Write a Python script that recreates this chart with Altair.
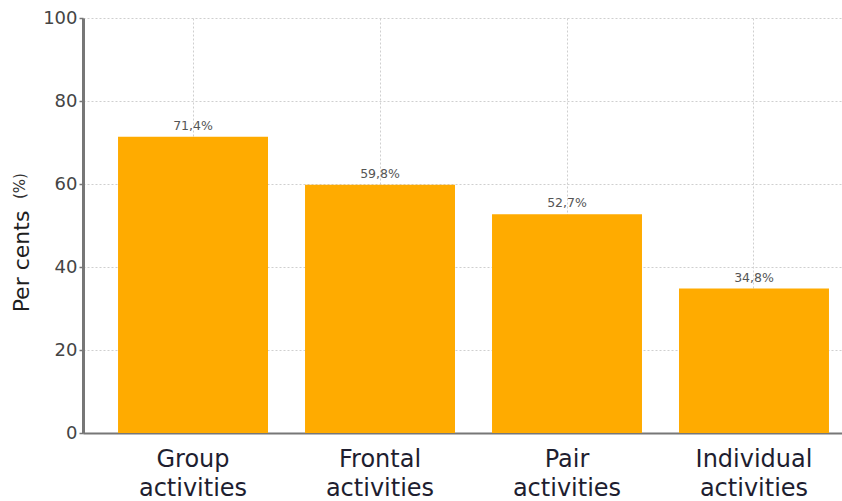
import altair as alt
import pandas as pd

categories = ["Group activities", "Frontal activities", "Pair activities", "Individual activities"]
values = [71.4, 59.8, 52.7, 34.8]
labels = ["71,4%", "59,8%", "52,7%", "34,8%"]

df = pd.DataFrame({"cat": categories, "val": values, "lab": labels})

x = alt.X("cat:N", sort=categories, title=None,
          scale=alt.Scale(paddingInner=0.198, paddingOuter=0.1285, align=0.729),
          axis=alt.Axis(labelAngle=0, labelExpr="split(datum.label, ' ')",
                        labelFont="DejaVu Sans", labelFontSize=24, labelColor="#1e1e30",
                        labelLineHeight=29, labelPadding=14,
                        domainColor="#777", domainWidth=2,
                        ticks=False,
                        grid=True, gridDash=[2, 2], gridColor="#cfcfcf", gridWidth=1))

y = alt.Y("val:Q", title="Per cents",
          scale=alt.Scale(domain=[0, 100], nice=False),
          axis=alt.Axis(values=[0, 20, 40, 60, 80, 100], labelFont="DejaVu Sans",
                        labelFontSize=18, labelColor="#444", labelPadding=2,
                        tickSize=4, tickColor="#777", tickWidth=1.5,
                        domainColor="#777", domainWidth=3,
                        grid=True, gridDash=[2, 2], gridColor="#cfcfcf", gridWidth=1,
                        titleFont="DejaVu Sans", titleFontSize=22, titleFontWeight="normal",
                        titleColor="#1e1e1e", titleX=-62, titleY=243, titleAngle=-90,
                        titleAlign="center", titleBaseline="middle"))

bars = alt.Chart(df).mark_bar(color="#FFAB00").encode(x=x, y=y)
text = alt.Chart(df).mark_text(dy=-11, font="DejaVu Sans", fontSize=12.5, color="#555").encode(
    x=alt.X("cat:N", sort=categories), y="val:Q", text="lab:N")
unit = alt.Chart(pd.DataFrame({"u": ["(%)"]})).mark_text(
    angle=270, font="DejaVu Sans", fontSize=15, color="#333", baseline="middle"
).encode(x=alt.value(-63), y=alt.value(168), text="u:N")

chart = (bars + text + unit).properties(
    width=759, height=415,
    autosize=alt.AutoSizeParams(type="none"),
    padding={"left": 83, "top": 18, "right": 0, "bottom": 68},
    background="white",
).configure_view(stroke=None)

chart.save("out.html", embed_options={"renderer": "svg", "actions": False})
